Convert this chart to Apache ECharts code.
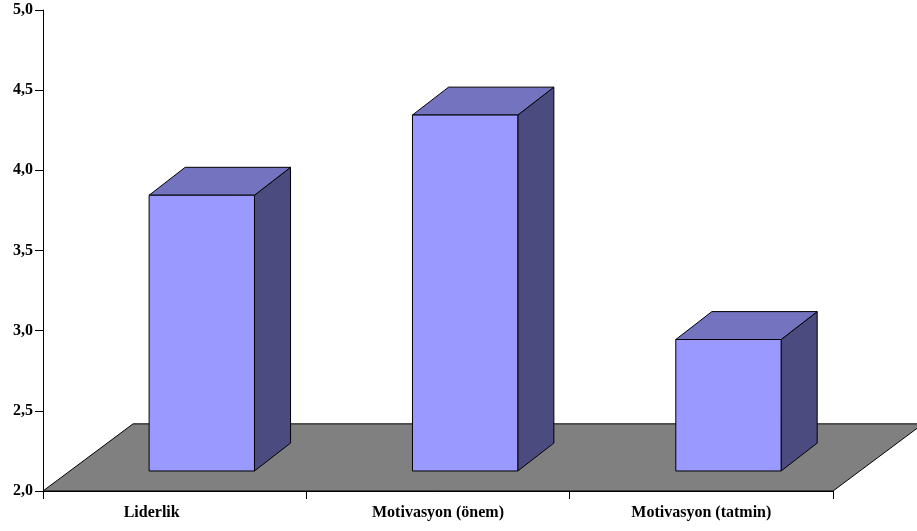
<!DOCTYPE html>
<html>
<head>
<meta charset="utf-8">
<script src="https://cdn.jsdelivr.net/npm/echarts@6/dist/echarts.min.js"></script>
<style>
  html, body { margin: 0; padding: 0; background: #fff; }
  #chart { width: 917px; height: 531px; }
</style>
</head>
<body>
<div id="chart"></div>
<script>
// chart data
const categories = ["Liderlik", "Motivasyon (önem)", "Motivasyon (tatmin)"];
const scores = [3.72, 4.22, 2.82];
const yMin = 2.0;
const yMax = 5.0;
const yStep = 0.5;

const chart = echarts.init(document.getElementById("chart"));

// depth of the 3d look, as a share of the category band
const floorDepth = [0.342, -0.255];
const barDepth = [0.137, -0.106];
const barShift = [0.103, -0.076];
const barWidth = 0.4;

function renderFloor(params, api) {
  const band = api.size([1, 0])[0];
  const first = api.coord([0, yMin]);
  const last = api.coord([categories.length - 1, yMin]);
  const xl = first[0] - band / 2;
  const xr = last[0] + band / 2;
  const y = first[1];
  const dx = band * floorDepth[0];
  const dy = band * floorDepth[1];
  return {
    type: "polygon",
    shape: { points: [[xl, y], [xr, y], [xr + dx, y + dy], [xl + dx, y + dy]] },
    style: { fill: "#808080", stroke: "#000", lineWidth: 1 },
  };
}

function renderBar(params, api) {
  const idx = api.value(0);
  const base = api.coord([idx, yMin]);
  const top = api.coord([idx, api.value(1)]);
  const band = api.size([1, 0])[0];
  const w = band * barWidth;
  const x0 = base[0] + band * barShift[0] - w / 2;
  const x1 = x0 + w;
  const yb = base[1] + band * barShift[1];
  const yt = top[1] + band * barShift[1];
  const dx = band * barDepth[0];
  const dy = band * barDepth[1];
  const line = { stroke: "#000", lineWidth: 1 };
  return {
    type: "group",
    children: [
      {
        type: "polygon",
        shape: { points: [[x1, yb], [x1 + dx, yb + dy], [x1 + dx, yt + dy], [x1, yt]] },
        style: Object.assign({ fill: "#4B4B7F" }, line),
      },
      {
        type: "polygon",
        shape: { points: [[x0, yt], [x1, yt], [x1 + dx, yt + dy], [x0 + dx, yt + dy]] },
        style: Object.assign({ fill: "#7373BF" }, line),
      },
      {
        type: "rect",
        shape: { x: x0, y: yt, width: w, height: yb - yt },
        style: Object.assign({ fill: "#9999FF" }, line),
      },
    ],
  };
}

const labelFont = {
  fontFamily: "Liberation Serif",
  fontWeight: "bold",
  fontSize: 16,
  color: "#000",
};

const option = {
  animation: false,
  grid: { left: 43, right: 84, top: 10, bottom: 40 },
  xAxis: {
    type: "category",
    data: categories.map((c, i) =>
      i === 0 ? { value: c, textStyle: { padding: [0, 46, 0, 0] } } : c
    ),
    boundaryGap: true,
    axisLine: { lineStyle: { color: "#000", width: 1 } },
    axisTick: { show: true, length: 8, lineStyle: { color: "#000" } },
    axisLabel: Object.assign({ margin: 14, interval: 0 }, labelFont),
    splitLine: { show: false },
  },
  yAxis: {
    type: "value",
    min: yMin,
    max: yMax,
    interval: yStep,
    axisLine: { show: true, lineStyle: { color: "#000", width: 1 } },
    axisTick: { show: true, length: 8, lineStyle: { color: "#000" } },
    axisLabel: Object.assign(
      { margin: 10, formatter: (v) => v.toFixed(1).replace(".", ",") },
      labelFont
    ),
    splitLine: { show: false },
  },
  series: [
    {
      type: "custom",
      name: "floor",
      renderItem: renderFloor,
      data: [[0, yMin]],
      encode: { x: 0, y: 1 },
      clip: false,
      silent: true,
      z: 1,
    },
    {
      type: "custom",
      name: "scores",
      renderItem: renderBar,
      data: scores.map((v, i) => [i, v]),
      encode: { x: 0, y: 1 },
      clip: false,
      z: 2,
    },
  ],
};

chart.setOption(option);
</script>
</body>
</html>
